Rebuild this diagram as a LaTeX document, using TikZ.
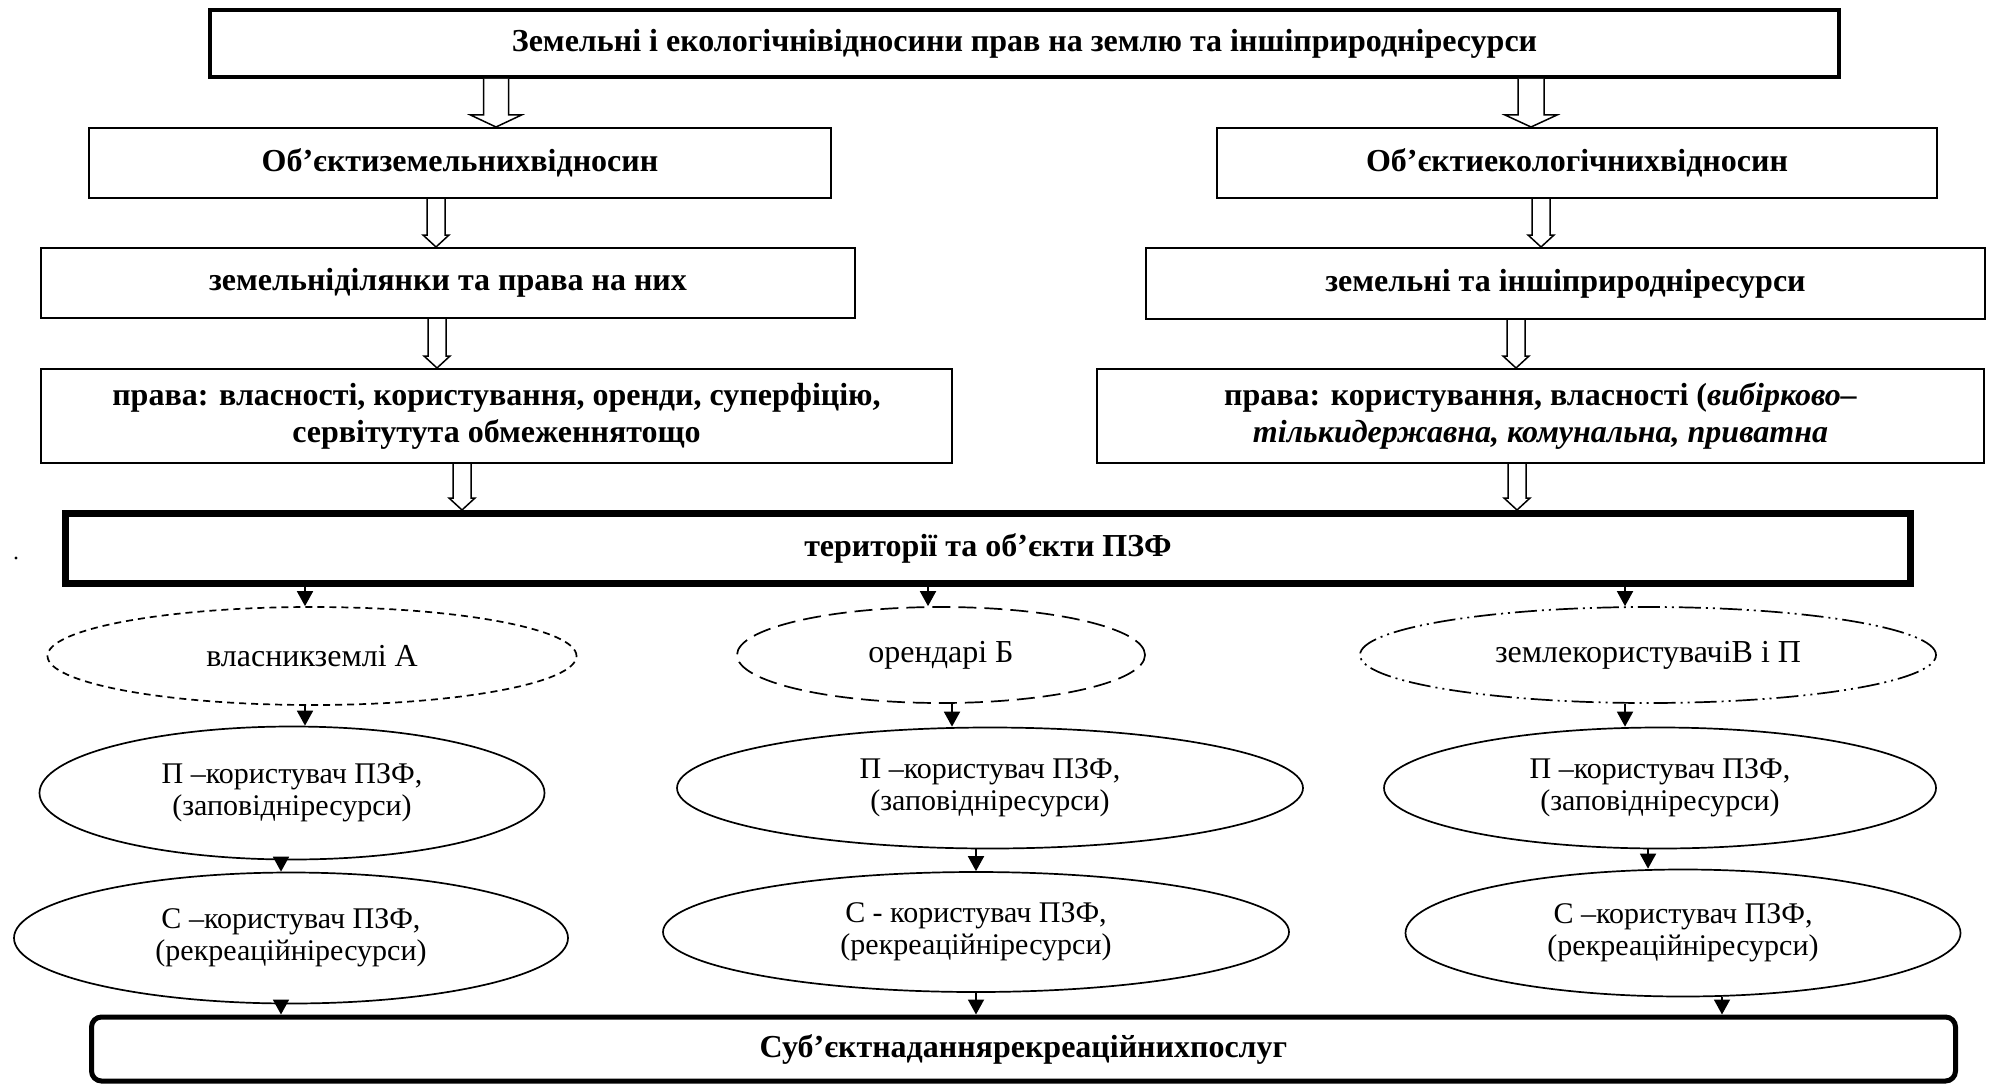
\documentclass[tikz,border=0pt]{standalone}
\usepackage{fontspec}
\setmainfont{Liberation Serif}
\usetikzlibrary{arrows.meta,shapes.geometric,calc}
\tikzset{
  box/.style={draw, line width=1pt, rectangle, inner sep=0pt, align=center,
    font=\fontsize{16}{18.5}\selectfont\bfseries},
  ell/.style={draw, line width=0.85pt, ellipse, inner sep=0pt, align=center,
    font=\fontsize{15}{16}\selectfont},
  bigtext/.style={font=\fontsize{16}{16}\selectfont},
  hollow/.style={draw, line width=0.75pt, fill=white, line join=miter},
  sarrow/.style={line width=0.9pt, -{Triangle[length=7.5pt,width=8pt]}},
  fdash/.style={dash pattern=on 3.5pt off 2.5pt},
  ldash/.style={dash pattern=on 9pt off 4pt},
  ddot/.style={dash pattern=on 11pt off 2.5pt on 1pt off 2.5pt on 1pt off 2.5pt},
}
\newcommand\hollowarrow[6]{%
  \draw[hollow] let \p1=(#2.south), \p2=(#3.north) in
  ({#1-#4/2},\y1) -- ({#1-#4/2},{\y2+#6*0.5pt}) -- ({#1-#5/2},{\y2+#6*0.5pt})
  -- (#1,\y2) -- ({#1+#5/2},{\y2+#6*0.5pt}) -- ({#1+#4/2},{\y2+#6*0.5pt})
  -- ({#1+#4/2},\y1);}
\newcommand\sarr[3]{%
  \draw[sarrow] let \p1=(#2.south), \p2=(#3.north) in (#1,\y1) -- (#1,\y2);}
\begin{document}
\begin{tikzpicture}[x=0.5pt,y=-0.5pt]
\useasboundingbox (0,0) rectangle (1995,1086);
\fill[white] (0,0) rectangle (1995,1086);

\node[box, line width=2pt, minimum width=814.5pt, minimum height=33.5pt] (top) at (1024.5,43.5)
  {Земельні і екологічнівідносини прав на землю та іншіприродніресурси};
\node[box, minimum width=371pt, minimum height=35pt] (L1) at (460,163) {Об’єктиземельнихвідносин};
\node[box, minimum width=360pt, minimum height=35pt] (R1) at (1577,163) {Об’єктиекологічнихвідносин};
\node[box, minimum width=407pt, minimum height=35pt] (L2) at (448,283) {земельніділянки та права на них};
\node[box, minimum width=419.5pt, minimum height=35.5pt] (R2) at (1565.5,283.5) {земельні та іншіприродніресурси};
\node[box, minimum width=455.5pt, minimum height=47pt] (L3) at (496.5,416)
  {права: власності, користування, оренди, суперфіцію,\\сервітутута обмеженнятощо};
\node[box, minimum width=443.5pt, minimum height=47pt] (R3) at (1540.5,416)
  {права: користування, власності (\textit{вибірково–}\\\textit{тількидержавна, комунальна, приватна}};
\node[box, line width=3.5pt, minimum width=922.5pt, minimum height=35pt] (ter) at (988,548.5)
  {території та об’єкти ПЗФ};

\node[ell, bigtext, fdash, minimum width=264.5pt, minimum height=49pt] (A) at (312,656) {власникземлі А};
\node[ell, bigtext, ldash, minimum width=204pt, minimum height=48pt] (B) at (941,655) {орендарі Б};
\node[ell, bigtext, ddot, minimum width=288pt, minimum height=48pt] (V) at (1648,655) {землекористувачіВ і П};

\node[ell, minimum width=252.5pt, minimum height=66.5pt] (P1) at (292,793) {П –користувач ПЗФ,\\(заповідніресурси)};
\node[ell, minimum width=313pt, minimum height=60.5pt] (P2) at (990,788) {П –користувач ПЗФ,\\(заповідніресурси)};
\node[ell, minimum width=276pt, minimum height=60.5pt] (P3) at (1660,788) {П –користувач ПЗФ,\\(заповідніресурси)};

\node[ell, minimum width=277pt, minimum height=65.5pt] (C1) at (291,938) {С –користувач ПЗФ,\\(рекреаційніресурси)};
\node[ell, minimum width=313pt, minimum height=60pt] (C2) at (976,932) {С - користувач ПЗФ,\\(рекреаційніресурси)};
\node[ell, minimum width=277.5pt, minimum height=63.5pt] (C3) at (1683,933) {С –користувач ПЗФ,\\(рекреаційніресурси)};

\node[box, line width=2.5pt, rounded corners=5pt, minimum width=932pt, minimum height=32pt] (bot) at (1023.5,1049)
  {Суб’єктнаданнярекреаційнихпослуг};

\fill (16,558) circle (0.8pt);

\hollowarrow{496}{top}{L1}{25}{51}{12}
\hollowarrow{1531}{top}{R1}{26}{52}{12}
\hollowarrow{436}{L1}{L2}{18}{26}{12}
\hollowarrow{1541}{R1}{R2}{18}{26}{12}
\hollowarrow{437}{L2}{L3}{18}{26}{12}
\hollowarrow{1516}{R2}{R3}{18}{26}{12}
\hollowarrow{462}{L3}{ter}{18}{26}{12}
\hollowarrow{1517}{R3}{ter}{18}{26}{12}

\sarr{305}{ter}{A}
\sarr{928}{ter}{B}
\sarr{1625}{ter}{V}
\sarr{305}{A}{P1}
\sarr{952}{B}{P2}
\sarr{1625}{V}{P3}
\sarr{281}{P1}{C1}
\sarr{976}{P2}{C2}
\sarr{1648}{P3}{C3}
\sarr{281}{C1}{bot}
\sarr{976}{C2}{bot}
\sarr{1722}{C3}{bot}
\end{tikzpicture}
\end{document}
